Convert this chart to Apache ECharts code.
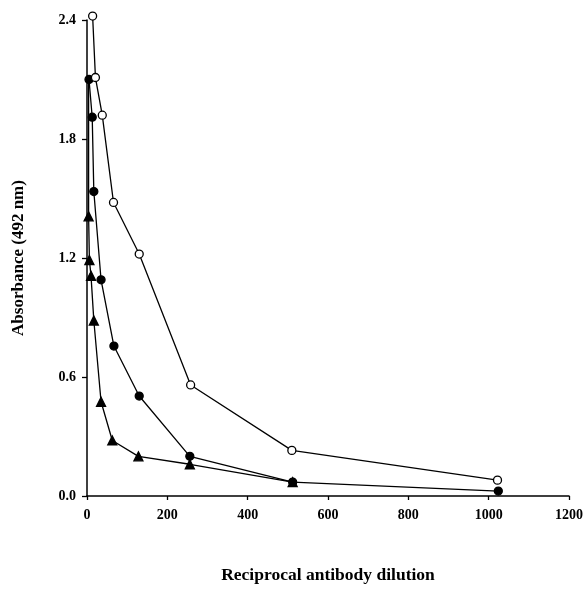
<!DOCTYPE html>
<html>
<head>
<meta charset="utf-8">
<script src="https://cdn.jsdelivr.net/npm/echarts@6/dist/echarts.min.js"></script>
<style>
  html, body { margin: 0; padding: 0; background: #fff; }
  #chart { width: 586px; height: 589px; }
</style>
</head>
<body>
<div id="chart"></div>
<script>
// dilution (x) and absorbance (y)
const openX = [14, 21, 38, 66, 130, 258, 510, 1022]
const openY = [2.42, 2.11, 1.92, 1.48, 1.22, 0.56, 0.23, 0.08]

const filledX = [5, 13, 17, 35, 67, 130, 256, 512, 1024]
const filledY = [2.10, 1.91, 1.535, 1.09, 0.756, 0.504, 0.20, 0.07, 0.025]

const triX = [4, 4, 6, 10, 17, 35, 63, 128, 256, 512]
const triY = [2.10, 1.41, 1.19, 1.11, 0.885, 0.475, 0.28, 0.20, 0.16, 0.07]

const xTicks = [0, 200, 400, 600, 800, 1000, 1200]
const yTicks = ['0.0', '0.6', '1.2', '1.8', '2.4']

const pairs = (xs, ys) => xs.map((x, i) => [x, ys[i]])
const font = 'Liberation Serif'

const chart = echarts.init(document.getElementById('chart'))

const baseSeries = {
  type: 'line',
  clip: false,
  lineStyle: { color: '#000', width: 1.3 },
  itemStyle: { color: '#000', borderColor: '#000', borderWidth: 1.3 }
}

// first triangle point sits under the top filled circle, so no marker there
const triData = pairs(triX, triY).map((p, i) => i === 0 ? { value: p, symbolSize: 0 } : p)

chart.setOption({
  animation: false,
  backgroundColor: '#fff',
  grid: { left: 87, right: 14, top: 20, bottom: 89 },
  xAxis: {
    type: 'value',
    min: xTicks[0],
    max: xTicks[xTicks.length - 1],
    interval: 200,
    name: 'Reciprocal antibody dilution',
    nameLocation: 'middle',
    nameGap: 70,
    nameTextStyle: { fontFamily: font, fontWeight: 'bold', fontSize: 17.5, color: '#000' },
    axisLine: { lineStyle: { color: '#000', width: 1.5 } },
    axisTick: { inside: false, length: 4, lineStyle: { color: '#000', width: 1.3 } },
    axisLabel: {
      margin: 12,
      fontFamily: font,
      fontWeight: 'bold',
      fontSize: 14,
      color: '#000',
      formatter: v => String(v)
    },
    splitLine: { show: false }
  },
  yAxis: {
    type: 'value',
    min: 0,
    max: 2.4,
    interval: 0.6,
    name: 'Absorbance (492 nm)',
    nameLocation: 'middle',
    nameRotate: 90,
    nameGap: 60,
    nameTextStyle: { fontFamily: font, fontWeight: 'bold', fontSize: 17, color: '#000' },
    axisLine: { show: true, lineStyle: { color: '#000', width: 1.5 } },
    axisTick: { show: true, length: 5, lineStyle: { color: '#000', width: 1.3 } },
    axisLabel: {
      margin: 11,
      fontFamily: font,
      fontWeight: 'bold',
      fontSize: 14,
      color: '#000',
      formatter: v => yTicks[Math.round(v / 0.6)]
    },
    splitLine: { show: false }
  },
  series: [
    Object.assign({}, baseSeries, {
      name: 'triangle',
      data: triData,
      symbol: 'triangle',
      symbolSize: 9
    }),
    Object.assign({}, baseSeries, {
      name: 'filled',
      data: pairs(filledX, filledY),
      symbol: 'circle',
      symbolSize: 8
    }),
    Object.assign({}, baseSeries, {
      name: 'open',
      data: pairs(openX, openY),
      symbol: 'circle',
      symbolSize: 8,
      itemStyle: { color: '#fff', borderColor: '#000', borderWidth: 1.3 }
    })
  ]
})
</script>
</body>
</html>
